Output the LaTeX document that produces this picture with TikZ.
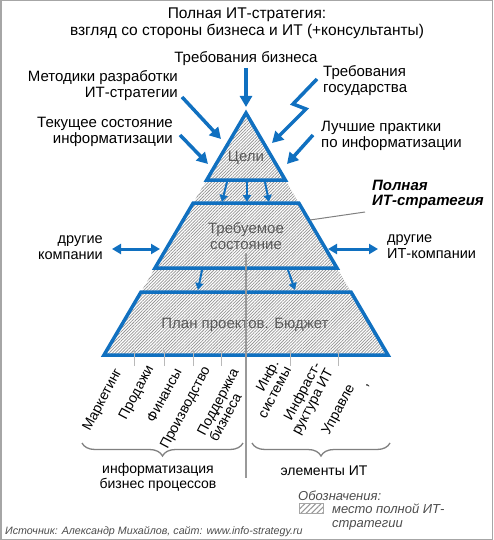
\documentclass[tikz,border=0pt]{standalone}
\usepackage{fontspec}
\setmainfont{Liberation Sans}
\usetikzlibrary{arrows.meta,positioning,patterns.meta,decorations.pathreplacing}

\definecolor{itblue}{RGB}{16,112,192}
\definecolor{hatchgray}{RGB}{150,150,150}
\definecolor{bandtext}{RGB}{90,90,90}

\begin{document}
\begin{tikzpicture}[
		x=1pt, y=-1pt,
		every node/.style={inner sep=0pt},
		font=\fontsize{15}{16}\selectfont,
		arrow/.style={draw=itblue, line width=3.5pt, -{Triangle[length=11pt,width=12pt]}},
		smallarrow/.style={draw=itblue, line width=2pt, -{Triangle[length=7pt,width=8pt]}},
		twoway/.style={draw=itblue, line width=3pt, {Triangle[length=9pt,width=10pt]}-{Triangle[length=9pt,width=10pt]}},
		band/.style={draw=itblue, line width=3.5pt, line join=miter},
		hatch/.style={pattern={Lines[angle=45,distance=2.2pt,line width=0.75pt]}, pattern color=hatchgray},
		swatchhatch/.style={pattern={Lines[angle=45,distance=3.8pt,line width=1.1pt]}, pattern color=hatchgray},
		uparrow/.style={draw=gray!55, line width=0.8pt, -{Stealth[length=4pt,width=3.5pt]}},
		inband/.style={text=bandtext, align=center},
		sector/.style={rotate=62, font=\fontsize{14}{14}\selectfont},
		bottomtext/.style={font=\fontsize{14}{15}\selectfont, align=center},
		note/.style={font=\itshape\fontsize{13}{14}\selectfont, text=black!70, align=left},
		groupbrace/.style={draw=gray, line width=1.3pt, decorate, decoration={brace, mirror, amplitude=13pt}},
	]
		\useasboundingbox (0,0) rectangle (493,540);
		\draw[gray!70, line width=1.5pt] (0.75,0.75) rectangle (492.25,539.25);

		% title
		\node (title) [align=center, font=\fontsize{15.5}{17}\selectfont] at (247,23) {Полная ИТ-стратегия:\\взгляд со стороны бизнеса и ИТ (+консультанты)};

		% pyramid
		\coordinate (apex) at (246,113);
		\coordinate (baseL) at (104,355);
		\coordinate (baseR) at (388,355);
		\fill[hatch] (apex) -- (baseL) -- (baseR) -- cycle;
		\draw[band] (apex) -- (285.3,180) -- (206.7,180) -- cycle;
		\draw[band] (193.2,203) -- (298.8,203) -- (337,268) -- (155,268) -- cycle;
		\draw[band] (141,292) -- (351,292) -- (baseR) -- (baseL) -- cycle;

		\node (goals) [inband] at (246,157.5) {Цели};
		\node (target) [inband] at (246,236) {Требуемое\\состояние};
		\node (plan) [inband] at (245,324.5) {План проектов. Бюджет};

		% inputs
		\node (bizreq) at (246,59) {Требования бизнеса};
		\node (methods) [anchor=east, align=right] at (178,85.5) {Методики разработки\\ИТ-стратегии};
		\node (current) [anchor=east, align=right] at (173,131.5) {Текущее состояние\\информатизации};
		\node (govreq) [anchor=west, align=left] at (323,80.5) {Требования\\государства};
		\node (best) [anchor=west, align=left] at (321,135.5) {Лучшие практики\\по информатизации};

		\coordinate (bizreq-s) at (246,68);
		\coordinate (bizreq-e) at (246,107);
		\coordinate (methods-s) at (182,97);
		\coordinate (methods-e) at (221,139);
		\coordinate (current-s) at (180,135);
		\coordinate (current-e) at (208,164);
		\coordinate (govreq-s) at (317,79);
		\coordinate (govreq-a) at (293,104);
		\coordinate (govreq-b) at (306,109);
		\coordinate (govreq-e) at (272,143);
		\coordinate (best-s) at (313,135);
		\coordinate (best-e) at (287,164);

		\draw[arrow] (bizreq-s) -- (bizreq-e);
		\draw[arrow] (methods-s) -- (methods-e);
		\draw[arrow] (current-s) -- (current-e);
		\draw[arrow, line join=miter] (govreq-s) -- (govreq-a) -- (govreq-b) -- (govreq-e);
		\draw[arrow] (best-s) -- (best-e);

		% between levels
		\draw[smallarrow] (227,182) -- (222,202);
		\draw[smallarrow] (247,182) -- (247,202);
		\draw[smallarrow] (265,182) -- (269,202);
		\draw[smallarrow] (202,270) -- (198,290);
		\draw[smallarrow] (288,270) -- (295,290);

		% sides
		\node (full) [anchor=west, align=left, font=\bfseries\itshape\fontsize{15}{15}\selectfont] at (372,194.5) {Полная\\ИТ-стратегия};
		\coordinate (full-s) at (365,212);
		\coordinate (full-e) at (310,220);
		\draw[gray, line width=1pt] (full-s) -- (full-e);

		\node (others) [anchor=east, align=right, font=\fontsize{14.5}{16}\selectfont] at (103,248) {другие\\компании};
		\node (itothers) [anchor=west, align=left, font=\fontsize{14.5}{16}\selectfont] at (387,247) {другие\\ИТ-компании};
		\coordinate (others-s) at (112,249);
		\coordinate (others-e) at (160,249);
		\coordinate (itothers-s) at (328,249);
		\coordinate (itothers-e) at (378,249);
		\draw[twoway] (others-s) -- (others-e);
		\draw[twoway] (itothers-s) -- (itothers-e);

		% split
		\coordinate (split-top) at (246,253);
		\coordinate (split-bot) at (246,478);
		\draw[gray!80, line width=1.5pt] (split-top) -- (split-bot);

		\foreach \x in {134,164,193,221,290,338}
			\draw[uparrow] (\x,366) -- (\x,349);

		\node (mkt) [sector] at (103,400) {Маркетинг};
		\node (sales) [sector] at (137,393) {Продажи};
		\node (fin) [sector] at (164,395) {Финансы};
		\node (prod) [sector] at (186,408) {Производство};
		\node (support) [sector, align=left] at (224,405) {Поддержка\\бизнеса};
		\node (infsys) [sector, align=right] at (268,389) {Инф.\\системы};
		\node (infra) [sector, align=right] at (307,399) {Инфраст-\\руктура ИТ};
		\node (mgmt) [sector] at (339,410) {Управле};
		\node (mgmtcut) [sector] at (368,386) {,};

		\draw[groupbrace] (82,443) -- (243,443);
		\draw[groupbrace] (252,443) -- (390,443);
		\node (bizinf) [bottomtext] at (158,477.5) {информатизация\\бизнес процессов};
		\node (itelem) [bottomtext] at (324,470.5) {элементы ИТ};

		% legend
		\node (legendhead) [note, anchor=base west] at (298,500) {Обозначения:};
		\node (swatch) [swatchhatch, draw=gray!70, minimum width=24pt, minimum height=10pt, anchor=north west] at (299,503) {};
		\node (legendtext) [note, anchor=north west] at (332,504) {место полной ИТ-\\стратегии};
		\node (source) [anchor=base west, font=\itshape\fontsize{10.7}{12}\selectfont, text=black!70] at (5,534) {Источник: Александр Михайлов, сайт: www.info-strategy.ru};
\end{tikzpicture}
\end{document}
